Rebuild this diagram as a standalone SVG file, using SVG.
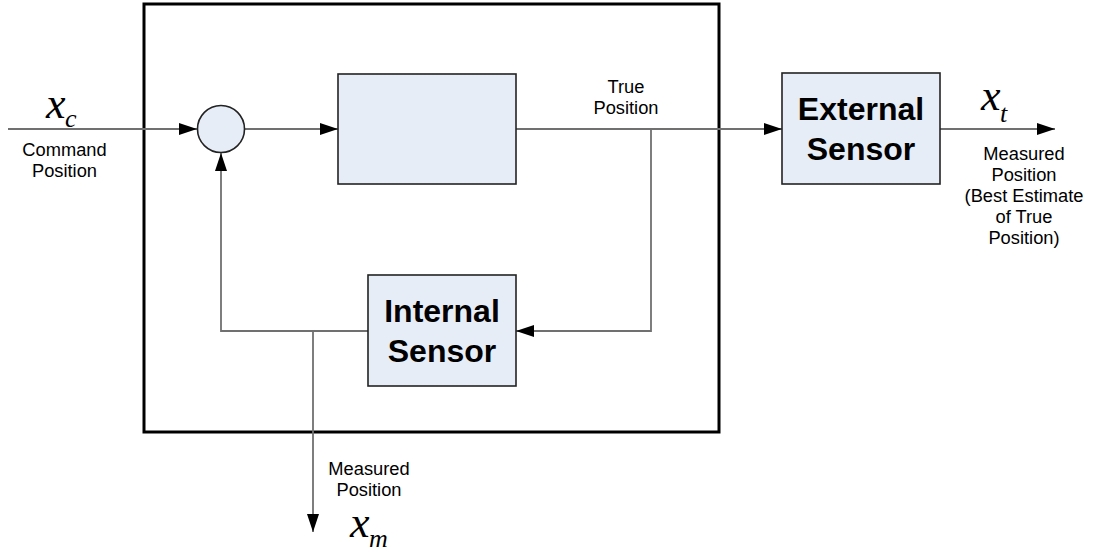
<svg xmlns="http://www.w3.org/2000/svg" width="1093" height="552" viewBox="0 0 1093 552">
<style>
.blk{fill:#e6edf7;stroke:#222;stroke-width:1.6}
.lbl{font-family:"Liberation Sans",Arial,sans-serif;font-size:18.3px;fill:#000;text-anchor:middle}
.big{font-family:"Liberation Sans",Arial,sans-serif;font-size:32px;font-weight:bold;fill:#000;text-anchor:middle}
.var{font-family:"Liberation Serif","Times New Roman",serif;font-style:italic;fill:#000}
.conn path{fill:none;stroke:#707070;stroke-width:1.8}
</style>
<defs>
<marker id="arr" markerUnits="userSpaceOnUse" markerWidth="20" markerHeight="14" refX="18" refY="6" orient="auto">
<path d="M0,0 L18,6 L0,12 z" fill="#000"/>
</marker>
</defs>
<rect width="1093" height="552" fill="#fff"/>
<g id="enclosure">
<rect x="144" y="4" width="575" height="428" fill="none" stroke="#000" stroke-width="3"/>
</g>
<g class="conn" id="connectors">
<path d="M8,129 H197" marker-end="url(#arr)"/>
<path d="M245,129 H338" marker-end="url(#arr)"/>
<path d="M516,129 H782" marker-end="url(#arr)"/>
<path d="M651,129 V331 H516" marker-end="url(#arr)"/>
<path d="M368,331 H221 V153" marker-end="url(#arr)"/>
<path d="M313,331 V532" marker-end="url(#arr)"/>
<path d="M940,129 H1055" marker-end="url(#arr)"/>
</g>
<g id="sum">
<circle cx="221" cy="129" r="23.5" class="blk"/>
</g>
<g id="plant">
<rect x="338" y="74" width="178" height="110" class="blk"/>
</g>
<g id="internal-sensor">
<rect x="368" y="275" width="148" height="111" class="blk"/>
<text class="big" x="442" y="322">Internal</text>
<text class="big" x="442" y="362">Sensor</text>
</g>
<g id="external-sensor">
<rect x="782" y="73" width="158" height="111" class="blk"/>
<text class="big" x="861" y="120">External</text>
<text class="big" x="861" y="160">Sensor</text>
</g>
<g id="labels">
<text class="var" x="46" y="118" font-size="44">x</text>
<text class="var" x="65" y="127" font-size="26">c</text>
<text class="lbl" x="64.5" y="156">Command</text>
<text class="lbl" x="64.5" y="177">Position</text>
<text class="lbl" x="626" y="93">True</text>
<text class="lbl" x="626" y="114">Position</text>
<text class="var" x="981" y="110" font-size="44">x</text>
<text class="var" x="1000" y="122" font-size="26">t</text>
<text class="lbl" x="1024" y="160">Measured</text>
<text class="lbl" x="1024" y="181">Position</text>
<text class="lbl" x="1024" y="202">(Best Estimate</text>
<text class="lbl" x="1024" y="223">of True</text>
<text class="lbl" x="1024" y="244">Position)</text>
<text class="lbl" x="369" y="475">Measured</text>
<text class="lbl" x="369" y="496">Position</text>
<text class="var" x="350" y="537" font-size="44">x</text>
<text class="var" x="369" y="547" font-size="26">m</text>
</g>
</svg>
